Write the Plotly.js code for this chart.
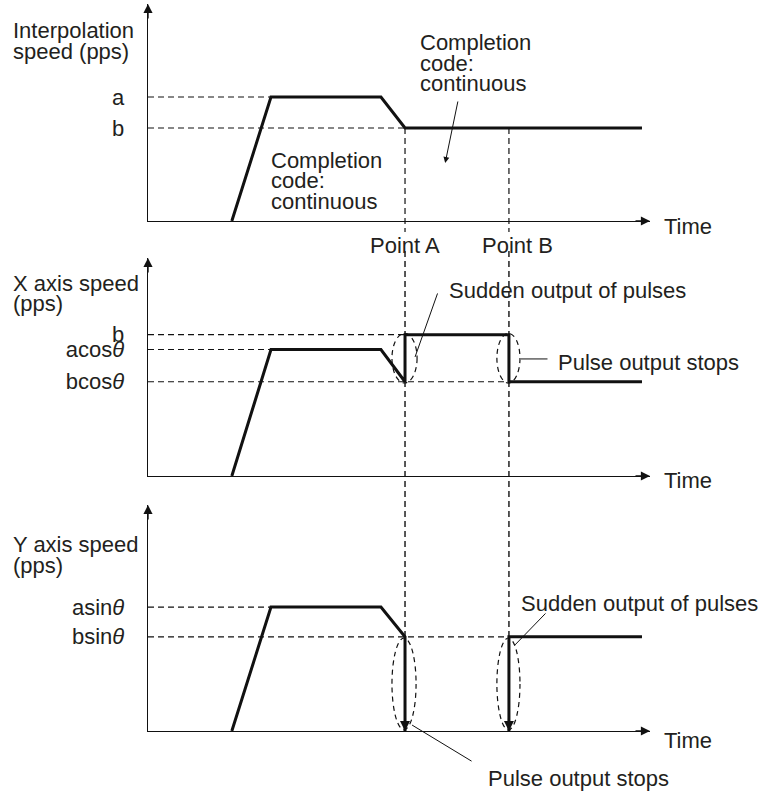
<!DOCTYPE html>
<html>
<head>
<meta charset="utf-8">
<script src="https://cdn.plot.ly/plotly-3.0.1.min.js"></script>
<style>
  html, body { margin: 0; padding: 0; background: #fff; }
  #chart { width: 763px; height: 793px; }
</style>
</head>
<body>
<div id="chart"></div>
<script>
// speed profiles, time and speed (arbitrary units)
const interpTime = [1.67, 2.45, 4.64, 5.12, 9.84];
const interpSpeed = [0, 1.0, 1.0, 0.75, 0.75];

const xAxisTime = [1.67, 2.45, 4.64, 5.12, 5.12, 7.19, 7.19, 9.84];
const xAxisSpeed = [0, 1.02, 1.02, 0.76, 1.14, 1.14, 0.76, 0.76];

const yAxisTime = [1.67, 2.45, 4.64, 5.12, 5.12, null, 7.19, 7.19, 9.84];
const yAxisSpeed = [0, 1.0, 1.0, 0.76, 0, null, 0, 0.76, 0.76];

// reference levels (dashed) and where each dashed line stops
const interpLevels = [1.0, 0.75];
const interpLevelEnds = [2.45, 5.12];
const interpLevelLabels = ['a', 'b'];

const xLevels = [1.14, 1.02, 0.76];
const xLevelEnds = [5.12, 2.45, 7.19];
const xLevelLabels = ['b', 'acos<i>θ</i>', 'bcos<i>θ</i>'];

const yLevels = [1.0, 0.76];
const yLevelEnds = [2.45, 7.19];
const yLevelLabels = ['asin<i>θ</i>', 'bsin<i>θ</i>'];

const pointTimes = [5.12, 7.19];
const pointLabels = ['Point A', 'Point B'];

const W = 763, H = 793;
function px(x){ return x / W; }
function py(y){ return 1 - y / H; }

const FONT = 'Liberation Sans, Arial, Helvetica, sans-serif';
const FS = 22;
const TXT = '#231f20';
const INK = '#111';

// panel layout
const xDom = [px(148), px(650)];
const doms = [[py(221), py(4)], [py(476), py(258)], [py(731), py(505)]];
const tops = [1.75, 1.758, 1.823];
const tMax = 10;

function levelToPaper(i, v){
  return doms[i][0] + v / tops[i] * (doms[i][1] - doms[i][0]);
}

let data = [];

function addLevels(levels, ends, xa, ya){
  for (let i = 0; i < levels.length; i++){
    data.push({
      x: [0, ends[i]], y: [levels[i], levels[i]],
      xaxis: xa, yaxis: ya, mode: 'lines', hoverinfo: 'skip',
      line: {color: INK, width: 1.2, dash: '6px,4px'}
    });
  }
}
addLevels(interpLevels, interpLevelEnds, 'x', 'y');
addLevels(xLevels, xLevelEnds, 'x2', 'y2');
addLevels(yLevels, yLevelEnds, 'x3', 'y3');

data.push({x: interpTime, y: interpSpeed, xaxis: 'x', yaxis: 'y', mode: 'lines',
  line: {color: INK, width: 3}, hoverinfo: 'skip'});
data.push({x: xAxisTime, y: xAxisSpeed, xaxis: 'x2', yaxis: 'y2', mode: 'lines',
  line: {color: INK, width: 3}, hoverinfo: 'skip'});
data.push({x: yAxisTime, y: yAxisSpeed, xaxis: 'x3', yaxis: 'y3', mode: 'lines',
  line: {color: INK, width: 3}, hoverinfo: 'skip', connectgaps: false});

function xax(anchor){
  return {domain: xDom, range: [0, tMax], anchor: anchor, showline: true,
    linecolor: INK, linewidth: 1.4, showgrid: false, zeroline: false,
    showticklabels: false, ticks: '', fixedrange: true};
}
function yax(i, anchor, vals, labels){
  return {domain: doms[i], range: [0, tops[i]], anchor: anchor, showline: true,
    linecolor: INK, linewidth: 1.4, showgrid: false, zeroline: false,
    tickvals: vals, ticktext: labels, ticks: '', ticklabelstandoff: 18,
    tickfont: {family: FONT, size: FS, color: TXT}, fixedrange: true};
}

let shapes = [];
// Point A / Point B dashed verticals
pointTimes.forEach(function(t){
  shapes.push({type: 'line', xref: 'x', yref: 'paper', x0: t, x1: t,
    y0: levelToPaper(0, interpLevels[1]), y1: py(232),
    line: {color: INK, width: 1.2, dash: '6px,4px'}});
  shapes.push({type: 'line', xref: 'x', yref: 'paper', x0: t, x1: t,
    y0: py(251), y1: doms[2][0],
    line: {color: INK, width: 1.4, dash: '6px,4px'}});
});
// dashed ellipses round the sudden jumps
function ellipse(xa, ya, t, lo, hi, l, r){
  shapes.push({type: 'circle', xref: xa, yref: ya, x0: t - l, x1: t + r,
    y0: lo, y1: hi, line: {color: INK, width: 1.2, dash: '5px,4px'}});
}
ellipse('x2', 'y2', pointTimes[0], xLevels[2] - 0.01, xLevels[0] + 0.01, 0.26, 0.24);
ellipse('x2', 'y2', pointTimes[1], xLevels[2] - 0.01, xLevels[0] + 0.01, 0.24, 0.22);
ellipse('x3', 'y3', pointTimes[0], 0.01, yLevels[1] - 0.01, 0.26, 0.22);
ellipse('x3', 'y3', pointTimes[1], 0.01, yLevels[1] - 0.01, 0.24, 0.22);

let ann = [];
function label(text, x, y, anchor){
  ann.push({text: text, xref: 'paper', yref: 'paper', x: px(x), y: py(y),
    xanchor: anchor || 'left', yanchor: 'middle', showarrow: false,
    font: {family: FONT, size: FS, color: TXT}});
}
function arrow(xa, ya, x, y, ax, ay, head, w, size){
  ann.push({text: '', xref: xa, yref: ya, x: x, y: y, ax: ax, ay: ay,
    showarrow: true, arrowhead: head, arrowwidth: w, arrowsize: size || 1,
    arrowcolor: INK, standoff: 0});
}

// axis arrows
['', '2', '3'].forEach(function(s, i){
  arrow('x' + s, 'y' + s, 0, tops[i], 0, 16, 2, 1.4, 1.3);
  arrow('x' + s, 'y' + s, tMax, 0, -16, 0, 2, 1.4, 1.3);
});
// arrows at the bottom of the drops
pointTimes.forEach(function(t){ arrow('x3', 'y3', t, 0, 0, -14, 2, 2, 1); });

// titles
label('Interpolation', 11, 31);
label('speed (pps)', 11, 51);
label('X axis speed', 11, 283);
label('(pps)', 11, 304);
label('Y axis speed', 11, 544);
label('(pps)', 11, 565);
['Time', 'Time', 'Time'].forEach(function(t, i){ label(t, 662, [226, 480, 740][i]); });
label(pointLabels[0], 368, 245);
label(pointLabels[1], 480, 245);

// completion code notes
label('Completion', 418, 42.5);
label('code:', 418, 63);
label('continuous', 418, 83.5);
label('Completion', 269, 160);
label('code:', 269, 180.5);
label('continuous', 269, 201);
arrow('x', 'y', 5.92, 0.468, 13, -63, 2, 1, 1.2);

// pulse notes
label('Sudden output of pulses', 447, 290);
arrow('x2', 'y2', pointTimes[0] + 0.2, 0.96, 23, -65, 0, 1);
label('Pulse output stops', 556, 362);
arrow('x2', 'y2', pointTimes[1] + 0.24, 0.944, 28, 0, 0, 1);
label('Sudden output of pulses', 519, 603);
arrow('x3', 'y3', pointTimes[1] + 0.12, 0.694, 32, -33, 0, 1);
label('Pulse output stops', 486, 778);
arrow('x3', 'y3', pointTimes[0] + 0.14, 0.048, 61, 37, 0, 1);

const layout = {
  width: W, height: H, autosize: false,
  margin: {l: 0, r: 0, t: 0, b: 0},
  paper_bgcolor: '#fff', plot_bgcolor: 'rgba(0,0,0,0)',
  showlegend: false, hovermode: false,
  font: {family: FONT, size: FS, color: TXT},
  xaxis: xax('y'), xaxis2: xax('y2'), xaxis3: xax('y3'),
  yaxis: yax(0, 'x', interpLevels, interpLevelLabels),
  yaxis2: yax(1, 'x2', xLevels, xLevelLabels),
  yaxis3: yax(2, 'x3', yLevels, yLevelLabels),
  shapes: shapes,
  annotations: ann
};

Plotly.newPlot('chart', data, layout, {displayModeBar: false, staticPlot: true});
</script>
</body>
</html>
